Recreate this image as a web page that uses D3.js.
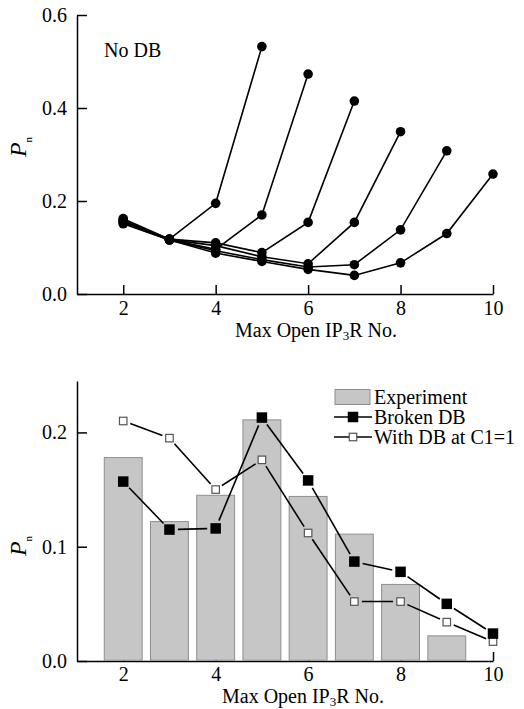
<!DOCTYPE html>
<html>
<head>
<meta charset="utf-8">
<script src="https://cdn.jsdelivr.net/npm/d3@7"></script>
<style>
  html, body { margin: 0; padding: 0; background: #fff; }
  svg { display: block; }
</style>
</head>
<body>
<svg id="chart" width="524" height="709"></svg>
<script>
// ---------------- DATA ----------------
// Top panel: "No DB", one series per maximum number of open IP3R (5..10)
const topX = [2, 3, 4, 5, 6, 7, 8, 9, 10];
const noDB5  = [0.162, 0.118, 0.195, 0.532];
const noDB6  = [0.160, 0.117, 0.096, 0.170, 0.473];
const noDB7  = [0.157, 0.118, 0.110, 0.089, 0.154, 0.415];
const noDB8  = [0.155, 0.117, 0.104, 0.080, 0.065, 0.154, 0.349];
const noDB9  = [0.153, 0.116, 0.093, 0.074, 0.058, 0.063, 0.138, 0.308];
const noDB10 = [0.151, 0.116, 0.088, 0.070, 0.053, 0.040, 0.067, 0.130, 0.258];
const topSeries = [noDB5, noDB6, noDB7, noDB8, noDB9, noDB10];
const topYTicks = [0.0, 0.2, 0.4, 0.6];
const xTicks = [2, 4, 6, 8, 10];

// Bottom panel
const barX = [2, 3, 4, 5, 6, 7, 8, 9];
const experiment = [0.178, 0.122, 0.145, 0.211, 0.144, 0.111, 0.067, 0.022];
const lineX = [2, 3, 4, 5, 6, 7, 8, 9, 10];
const brokenDB = [0.157, 0.115, 0.116, 0.213, 0.158, 0.087, 0.078, 0.050, 0.024];
const withDB   = [0.210, 0.195, 0.150, 0.176, 0.112, 0.052, 0.052, 0.034, 0.017];
const botYTicks = [0.0, 0.1, 0.2];
const legendLabels = ["Experiment", "Broken DB", "With DB at C1=1"];

// ---------------- DRAW ----------------
const FONT = '"Liberation Serif", Tinos, "Times New Roman", Times, "Nimbus Roman", "Nimbus Roman No9 L", FreeSerif, "Noto Serif", "DejaVu Serif", serif';
const svg = d3.select("#chart").attr("font-family", FONT);
const fmt = d3.format(".1f");

function styleAxis(g) {
  g.attr("font-family", FONT);
  g.selectAll("path.domain").attr("stroke", "#000").attr("stroke-width", 1.5);
  g.selectAll(".tick line").attr("stroke", "#000").attr("stroke-width", 1.5);
  g.selectAll(".tick text")
    .attr("font-family", FONT)
    .attr("font-size", 20).attr("fill", "#000");
}

function yLabel(x, y) {
  const t = svg.append("text")
    .attr("font-family", FONT)
    .attr("transform", `translate(${x},${y}) rotate(-90)`)
    .attr("text-anchor", "middle");
  t.append("tspan").attr("font-style", "italic").attr("font-size", 24).text("P");
  t.append("tspan").attr("font-size", 11).attr("dy", 6).text("n");
}

function xLabel(x, y) {
  const t = svg.append("text")
    .attr("font-family", FONT)
    .attr("x", x).attr("y", y)
    .attr("text-anchor", "middle").attr("font-size", 20);
  t.append("tspan").text("Max Open IP");
  t.append("tspan").attr("font-size", 13).attr("dy", 3).text("3");
  t.append("tspan").attr("dy", -3).text("R No.");
}

// ===== Top panel =====
const xT = d3.scaleLinear().domain([1, 10]).range([77, 493]);
const yT = d3.scaleLinear().domain([0, 0.6]).range([294, 15]);

svg.append("g").attr("transform", `translate(0,${yT(0)})`)
  .call(d3.axisBottom(xT).tickValues(xTicks).tickSizeInner(-9).tickSizeOuter(0).tickPadding(7))
  .call(styleAxis);
svg.append("g").attr("transform", `translate(${xT(1)},0)`)
  .call(d3.axisLeft(yT).tickValues(topYTicks).tickFormat(fmt).tickSizeInner(-10).tickSizeOuter(0).tickPadding(10))
  .call(styleAxis);

const lineT = d3.line().x((d, i) => xT(topX[i])).y(d => yT(d));
topSeries.forEach(s => {
  svg.append("path").attr("d", lineT(s))
    .attr("fill", "none").attr("stroke", "#000").attr("stroke-width", 1.6);
});
topSeries.forEach(s => {
  svg.append("g").selectAll("circle").data(s).join("circle")
    .attr("cx", (d, i) => xT(topX[i])).attr("cy", d => yT(d))
    .attr("r", 4.8).attr("fill", "#000");
});

svg.append("text").attr("font-family", FONT).attr("x", 104).attr("y", 57).attr("font-size", 20).text("No DB");
yLabel(26, 147);
xLabel(316, 337);

// ===== Bottom panel =====
const xB = d3.scaleLinear().domain([1, 10]).range([77, 493]);
const yB = d3.scaleLinear().domain([0, 0.245]).range([661, 381]);
const barW = xB(1.82) - xB(1);

svg.append("g").attr("transform", `translate(0,${yB(0)})`)
  .call(d3.axisBottom(xB).tickValues(xTicks).tickSizeInner(-9).tickSizeOuter(0).tickPadding(6))
  .call(styleAxis);
svg.append("g").attr("transform", `translate(${xB(1)},0)`)
  .call(d3.axisLeft(yB).tickValues(botYTicks).tickFormat(fmt).tickSizeInner(-10).tickSizeOuter(0).tickPadding(10))
  .call(styleAxis);

svg.append("g").selectAll("rect").data(experiment).join("rect")
  .attr("x", (d, i) => xB(barX[i]) - barW / 2)
  .attr("width", barW)
  .attr("y", d => yB(d))
  .attr("height", d => yB(0) - 0.75 - yB(d))
  .attr("fill", "#c6c6c6").attr("stroke", "#8e8e8e").attr("stroke-width", 1);

// segment lines with small gaps at the markers
function gappedSegments(vals, gap) {
  const pts = vals.map((v, i) => [xB(lineX[i]), yB(v)]);
  const segs = [];
  for (let i = 0; i < pts.length - 1; i++) {
    const [x1, y1] = pts[i], [x2, y2] = pts[i + 1];
    const L = Math.hypot(x2 - x1, y2 - y1);
    const ux = (x2 - x1) / L, uy = (y2 - y1) / L;
    segs.push([x1 + ux * gap, y1 + uy * gap, x2 - ux * gap, y2 - uy * gap]);
  }
  return segs;
}
function drawSegs(segs) {
  svg.append("g").selectAll("line").data(segs).join("line")
    .attr("x1", d => d[0]).attr("y1", d => d[1])
    .attr("x2", d => d[2]).attr("y2", d => d[3])
    .attr("stroke", "#000").attr("stroke-width", 1.6);
}
drawSegs(gappedSegments(withDB, 7.5));
drawSegs(gappedSegments(brokenDB, 8.5));

const openS = 7.5, fillS = 10.5;
svg.append("g").selectAll("rect").data(withDB).join("rect")
  .attr("x", (d, i) => xB(lineX[i]) - openS / 2).attr("y", d => yB(d) - openS / 2)
  .attr("width", openS).attr("height", openS)
  .attr("fill", "#fff").attr("stroke", "#555").attr("stroke-width", 1.2);
svg.append("g").selectAll("rect").data(brokenDB).join("rect")
  .attr("x", (d, i) => xB(lineX[i]) - fillS / 2).attr("y", d => yB(d) - fillS / 2)
  .attr("width", fillS).attr("height", fillS)
  .attr("fill", "#000");

// Legend
const lg = svg.append("g");
const rowY = [397, 417, 437];
lg.append("rect").attr("x", 335).attr("y", rowY[0] - 7.5).attr("width", 35).attr("height", 15)
  .attr("fill", "#c6c6c6").attr("stroke", "#8e8e8e");
[1, 2].forEach(k => {
  lg.append("line").attr("x1", 334).attr("x2", 372).attr("y1", rowY[k]).attr("y2", rowY[k])
    .attr("stroke", "#000").attr("stroke-width", 1.6);
});
lg.append("rect").attr("x", 353 - fillS / 2).attr("y", rowY[1] - fillS / 2)
  .attr("width", fillS).attr("height", fillS).attr("fill", "#000");
lg.append("rect").attr("x", 353 - openS / 2).attr("y", rowY[2] - openS / 2)
  .attr("width", openS).attr("height", openS)
  .attr("fill", "#fff").attr("stroke", "#555").attr("stroke-width", 1.2);
legendLabels.forEach((t, k) => {
  lg.append("text").attr("font-family", FONT).attr("x", 374).attr("y", rowY[k]).attr("dy", "0.35em")
    .attr("font-size", 20).text(t);
});

yLabel(26, 546);
xLabel(303, 703);
</script>
</body>
</html>
